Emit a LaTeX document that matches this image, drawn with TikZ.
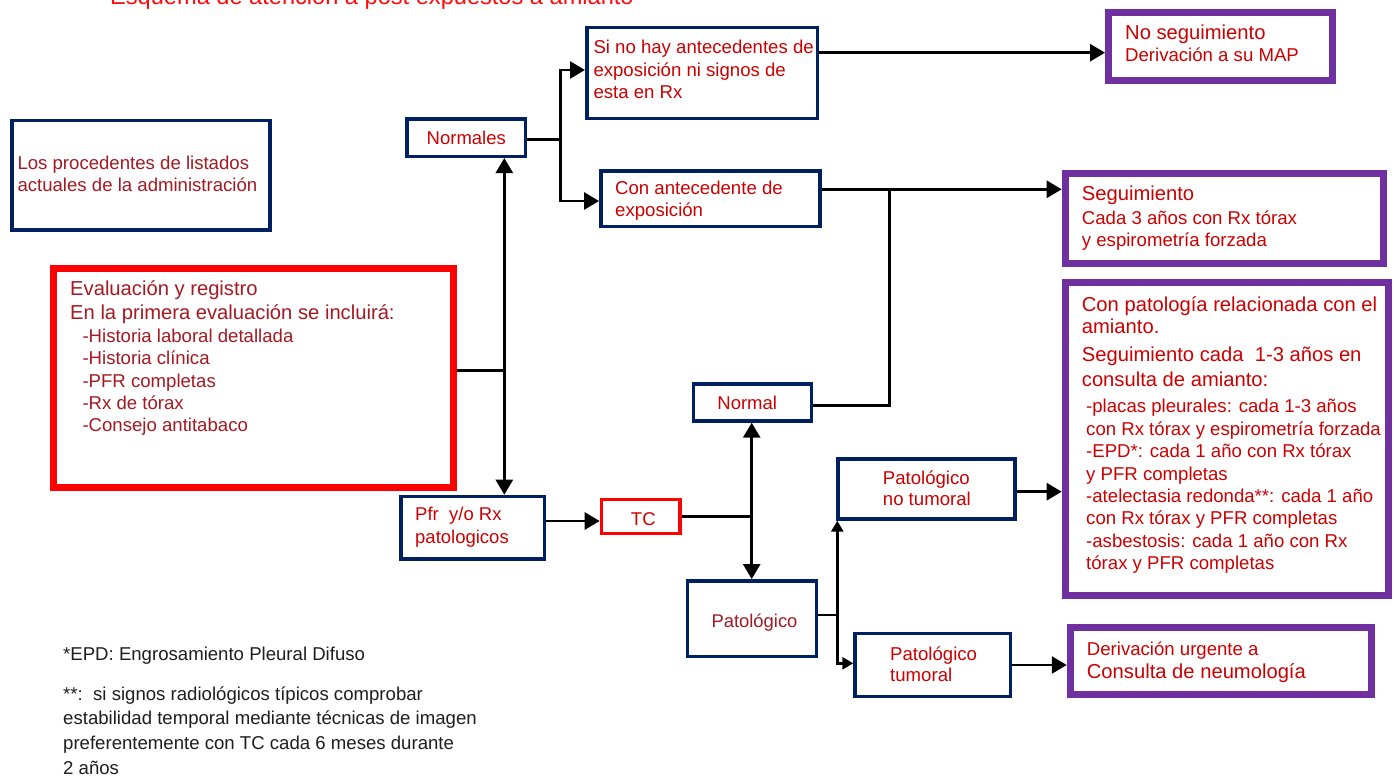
\documentclass[tikz,border=0pt]{standalone}
\usepackage{fontspec}
\setmainfont{Liberation Sans}
\usetikzlibrary{arrows.meta,calc}
\definecolor{navy}{RGB}{0,32,96}
\definecolor{purp}{RGB}{112,48,160}
\definecolor{bred}{RGB}{204,0,0}
\definecolor{dred}{RGB}{165,25,35}
\definecolor{titred}{RGB}{255,10,10}
\definecolor{foot}{RGB}{30,30,30}
\newcommand{\myfs}[2]{\fontsize{#1}{#2}\selectfont}
\begin{document}
\begin{tikzpicture}[x=1pt,y=-1pt,
  nbox/.style={draw=navy,line width=3.5pt,inner sep=0pt,fill=white},
  pbox/.style={draw=purp,line width=7pt,inner sep=0pt,fill=white},
  rbox/.style={draw=red,line width=7pt,inner sep=0pt,fill=white},
  tcbox/.style={draw=red,line width=3.5pt,inner sep=0pt,fill=white},
  txt/.style={inner sep=0pt,anchor=north west,align=left,text=bred},
  ltxt/.style={inner sep=0pt,anchor=base west,text=bred},
  ctxt/.style={inner sep=0pt,anchor=base,text=bred},
  ln/.style={line width=2.7pt},
  arr/.style={line width=2.7pt,-{Triangle[length=15pt,width=17pt]}},
  sarr/.style={line width=2.7pt,-{Triangle[length=11pt,width=12pt]}}]
\fill[white] (0,0) rectangle (1395,776);
\useasboundingbox (0,0) rectangle (1395,776);

% title
\node[ltxt,text=titred,font=\myfs{23.6}{28}] (title) at (110,5) {Esquema de atención a post expuestos a amianto};

% boxes
\node[nbox,minimum width=258.2pt,minimum height=109.2pt] (proc) at (140.9,175.3) {};
\node[rbox,minimum width=399.5pt,minimum height=218.7pt] (eval) at (253.3,377.9) {};
\node[nbox,minimum width=118.5pt,minimum height=37.2pt] (normales) at (466,137.7) {};
\node[nbox,minimum width=230.5pt,minimum height=90.5pt] (sinohay) at (702,73) {};
\node[nbox,minimum width=219.2pt,minimum height=55.8pt] (conante) at (710.4,198.7) {};
\node[pbox,minimum width=223.7pt,minimum height=68.3pt] (noseg) at (1220.4,46.7) {};
\node[pbox,minimum width=318.6pt,minimum height=89.7pt] (seg) at (1224.5,218.4) {};
\node[pbox,minimum width=323pt,minimum height=313pt] (conpat) at (1226.7,439.3) {};
\node[pbox,minimum width=301.3pt,minimum height=67pt] (deriv) at (1220.9,661) {};
\node[nbox,minimum width=143.5pt,minimum height=62.5pt] (pfr) at (472.5,527.7) {};
\node[tcbox,minimum width=78.5pt,minimum height=33.8pt] (tc) at (640.7,516.4) {};
\node[nbox,minimum width=118.1pt,minimum height=36.9pt] (normal) at (752.5,402.5) {};
\node[nbox,minimum width=129.1pt,minimum height=75.8pt] (patol) at (752,618.7) {};
\node[nbox,minimum width=177.2pt,minimum height=59.9pt] (notum) at (926.4,489) {};
\node[nbox,minimum width=155.5pt,minimum height=63.1pt] (tum) at (932.8,665) {};

% texts
\node[txt,text=dred,font=\myfs{18.6}{21.7}] (tproc) at (17.3,154.3) {\rule{0pt}{15pt}Los procedentes de listados\\actuales de la administración};
\node[txt,text=dred,font=\myfs{20.2}{24}] (teval1) at (70,279) {\rule{0pt}{16pt}Evaluación y registro\\En la primera evaluación se incluirá:};
\node[txt,text=dred,font=\myfs{18.6}{22.35}] (teval2) at (82.3,327.3) {\rule{0pt}{15pt}-Historia laboral detallada\\-Historia clínica\\-PFR completas\\-Rx de tórax\\-Consejo antitabaco};
\node[ctxt,font=\myfs{18.5}{22}] (tnormales) at (466.3,144.3) {Normales};
\node[txt,font=\myfs{18.6}{22.7}] (tsinohay) at (593.3,38.3) {\rule{0pt}{15pt}Si no hay antecedentes de\\exposición ni signos de\\esta en Rx};
\node[txt,font=\myfs{18.6}{21.7}] (tconante) at (615,179.3) {\rule{0pt}{15pt}Con antecedente de\\exposición};
\node[ltxt,font=\myfs{20.2}{22}] (tnoseg1) at (1125,40) {No seguimiento};
\node[ltxt,font=\myfs{18.6}{22}] (tnoseg2) at (1125,61.7) {Derivación a su MAP};
\node[ltxt,font=\myfs{20.2}{22}] (tseg1) at (1081.7,200.7) {Seguimiento};
\node[txt,font=\myfs{18.6}{22}] (tseg2) at (1081.7,209) {\rule{0pt}{15pt}Cada 3 años con Rx tórax\\y espirometría forzada};
\node[txt,font=\myfs{20.2}{21.3}] (tcp1) at (1081.7,295.7) {\rule{0pt}{16pt}Con patología relacionada con el\\amianto.};
\node[txt,font=\myfs{20.2}{24.3}] (tcp2) at (1081.7,345.7) {\rule{0pt}{16pt}Seguimiento cada\ \ 1-3 años en\\consulta de amianto:};
\node[txt,font=\myfs{18.6}{22.37}] (tcp3) at (1086,397.7) {\rule{0pt}{15pt}-placas pleurales: cada 1-3 años\\con Rx tórax y espirometría forzada\\-EPD*: cada 1 año con Rx tórax\\y PFR completas\\-atelectasia redonda**: cada 1 año\\con Rx tórax y PFR completas\\-asbestosis: cada 1 año con Rx\\tórax y PFR completas};
\node[ltxt,font=\myfs{18.6}{22}] (tder1) at (1086.7,655) {Derivación urgente a};
\node[ltxt,font=\myfs{20.2}{22}] (tder2) at (1086.7,678.3) {Consulta de neumología};
\node[txt,font=\myfs{18.5}{22.6}] (tpfr) at (415,505.7) {\rule{0pt}{15pt}Pfr\ \ y/o Rx\\patologicos};
\node[ctxt,font=\myfs{18.5}{22}] (ttc) at (643.3,525) {TC};
\node[ctxt,font=\myfs{18.5}{22}] (tnormal) at (747.2,409) {Normal};
\node[ctxt,text=dred,font=\myfs{18.4}{22}] (tpatol) at (754.5,627.7) {Patológico};
\node[txt,font=\myfs{18.6}{21.7}] (tnotum) at (882.7,469) {\rule{0pt}{15pt}Patológico\\no tumoral};
\node[txt,font=\myfs{18.6}{21.7}] (ttum) at (890,645) {\rule{0pt}{15pt}Patológico\\tumoral};
\node[ltxt,text=foot,font=\myfs{18.6}{24.7}] (tfoot1) at (63,660) {*EPD: Engrosamiento Pleural Difuso};
\node[txt,text=foot,font=\myfs{18.6}{24.7}] (tfoot2) at (63,685) {\rule{0pt}{15pt}**:\ \ si signos radiológicos típicos comprobar\\estabilidad temporal mediante técnicas de imagen\\preferentemente con TC cada 6 meses durante\\2 años};

% junctions
\coordinate (j1) at (504.3,370.7);
\coordinate (j2) at (560.3,139.3);
\coordinate (j3) at (889.3,189.3);
\coordinate (j4) at (751.7,516.7);
\coordinate (j5) at (837.3,615);
\coordinate (k1) at ([yshift=20.3pt]sinohay.east);
\coordinate (k2) at ([yshift=6.7pt]pfr.east);
\coordinate (k3) at ([yshift=-2.7pt]notum.east);

% connectors
\draw[ln] (j1 -| eval.east) -- (j1);
\draw[arr] (j1) -- (j1 |- normales.south);
\draw[arr] (j1) -- (j1 |- pfr.north);
\draw[ln] (j2 -| normales.east) -- (j2);
\draw[arr] (j2) |- ([yshift=3pt]sinohay.west);
\draw[arr] (j2) |- ([yshift=-2.3pt]conante.west);
\draw[arr] (k1) -- (k1 -| noseg.west);
\draw[arr] (j3 -| conante.east) -- (j3 -| seg.west);
\draw[ln] ([yshift=-3.2pt]normal.east) -| (j3);
\draw[arr] (k2) -- (k2 -| tc.west);
\draw[ln] (j4 -| tc.east) -- (j4);
\draw[arr] (j4) -- (j4 |- normal.south);
\draw[arr] (j4) -- (j4 |- patol.north);
\draw[ln] (j5 -| patol.east) -- (j5);
\draw[sarr] (j5) -- (j5 |- notum.south);
\draw[sarr] (j5) |- ([yshift=1.7pt]tum.west);
\draw[arr] (k3) -- (k3 -| conpat.west);
\draw[arr] (tum.east) -- (tum.east -| deriv.west);
\end{tikzpicture}
\end{document}
